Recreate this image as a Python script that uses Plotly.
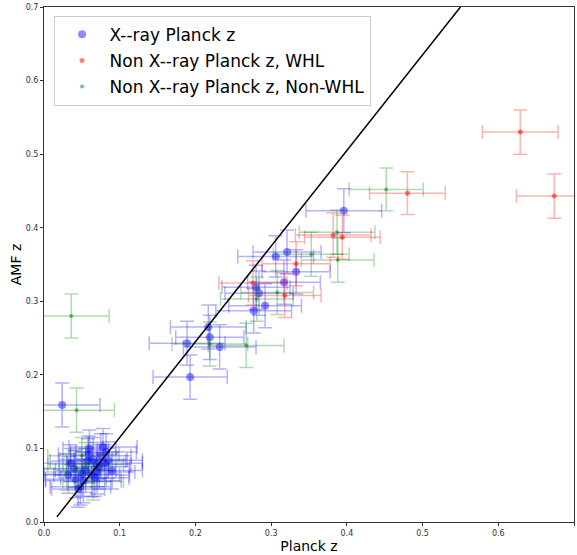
import plotly.graph_objects as go

# X-ray Planck z (blue)
xray_x = [0.396, 0.321, 0.306, 0.333, 0.317, 0.280, 0.284, 0.292, 0.277, 0.217, 0.219, 0.189, 0.232, 0.193, 0.024,
          0.059, 0.078, 0.058, 0.085, 0.073, 0.032, 0.063, 0.048, 0.045, 0.070, 0.080, 0.040, 0.055, 0.067, 0.090,
          0.052, 0.060, 0.075, 0.035, 0.050, 0.082, 0.065, 0.042, 0.070]
xray_y = [0.423, 0.367, 0.361, 0.340, 0.326, 0.319, 0.311, 0.294, 0.287, 0.265, 0.251, 0.243, 0.238, 0.197, 0.159,
          0.092, 0.102, 0.083, 0.084, 0.075, 0.064, 0.064, 0.048, 0.045, 0.078, 0.080, 0.072, 0.070, 0.060, 0.070,
          0.056, 0.100, 0.090, 0.080, 0.065, 0.095, 0.085, 0.058, 0.068]
xray_xerr = [0.050, 0.045, 0.050, 0.045, 0.048, 0.045, 0.045, 0.048, 0.050, 0.050, 0.045, 0.050, 0.048, 0.049, 0.050,
             0.040, 0.045, 0.050, 0.045, 0.040, 0.040, 0.050, 0.040, 0.035, 0.045, 0.050, 0.045, 0.040, 0.045, 0.040,
             0.050, 0.035, 0.040, 0.045, 0.050, 0.040, 0.045, 0.040, 0.050]
xray_yerr = [0.030, 0.030, 0.028, 0.030, 0.030, 0.030, 0.030, 0.030, 0.030, 0.030, 0.030, 0.030, 0.030, 0.030, 0.030,
             0.025, 0.025, 0.030, 0.025, 0.030, 0.025, 0.030, 0.025, 0.025, 0.030, 0.025, 0.025, 0.030, 0.025, 0.025,
             0.030, 0.025, 0.030, 0.025, 0.030, 0.025, 0.030, 0.025, 0.030]

# Non X-ray Planck z, WHL (red)
whl_x = [0.629, 0.674, 0.480, 0.382, 0.394, 0.333, 0.318, 0.276]
whl_y = [0.530, 0.443, 0.447, 0.390, 0.387, 0.351, 0.308, 0.325]
whl_xerr = [0.050, 0.050, 0.050, 0.050, 0.050, 0.045, 0.048, 0.045]
whl_yerr = [0.030, 0.030, 0.029, 0.030, 0.030, 0.030, 0.030, 0.030]

# Non X-ray Planck z, Non-WHL (green)
nonwhl_x = [0.452, 0.387, 0.388, 0.353, 0.308, 0.281, 0.219, 0.267, 0.036, 0.043, 0.042, 0.030, 0.055, 0.065, 0.050]
nonwhl_y = [0.452, 0.394, 0.356, 0.364, 0.312, 0.303, 0.242, 0.240, 0.280, 0.152, 0.073, 0.068, 0.078, 0.055, 0.090]
nonwhl_xerr = [0.049, 0.050, 0.048, 0.050, 0.048, 0.048, 0.050, 0.050, 0.050, 0.050, 0.045, 0.045, 0.050, 0.040, 0.045]
nonwhl_yerr = [0.029, 0.030, 0.030, 0.030, 0.030, 0.030, 0.030, 0.030, 0.030, 0.030, 0.025, 0.025, 0.030, 0.025, 0.025]

# Reference line
line_x = [0.017, 0.55]
line_y = [0.007, 0.70]

fig = go.Figure()

def add_group(x, y, xe, ye, name, rgb, msize, mop, grp):
    ecol = "rgba(%d,%d,%d,0.3)" % rgb
    fig.add_trace(go.Scatter(
        x=x, y=y, mode="markers", name=name, legendgroup=grp,
        marker=dict(color="rgba(%d,%d,%d,%s)" % (rgb + (mop,)), size=msize, line=dict(width=0)),
        error_x=dict(type="data", array=xe, color=ecol, thickness=1.5, width=7),
        error_y=dict(type="data", array=ye, color=ecol, thickness=1.5, width=7),
    ))

add_group(xray_x, xray_y, xray_xerr, xray_yerr, "X--ray Planck z", (0, 0, 255), 8, 0.45, "a")
add_group(whl_x, whl_y, whl_xerr, whl_yerr, "Non X--ray Planck z, WHL", (255, 0, 0), 5, 0.5, "b")
add_group(nonwhl_x, nonwhl_y, nonwhl_xerr, nonwhl_yerr, "Non X--ray Planck z, Non-WHL", (0, 128, 0), 4, 0.5, "c")

fig.add_trace(go.Scatter(x=line_x, y=line_y, mode="lines", showlegend=False,
                         line=dict(color="black", width=1.5)))

axis_common = dict(range=[0, 0.7], dtick=0.1, tickformat=".1f", showgrid=False, zeroline=False,
                   showline=True, linecolor="#333", linewidth=1, mirror=True, ticks="outside",
                   ticklen=3, tickcolor="#333", tickfont=dict(size=8, color="#333", family="DejaVu Sans"))

fig.update_layout(
    width=577, height=555,
    margin=dict(l=44, r=3, t=7, b=33),
    paper_bgcolor="white", plot_bgcolor="white",
    font=dict(family="DejaVu Sans", color="black"),
    xaxis=dict(axis_common, title=dict(text="Planck z", font=dict(size=14), standoff=4)),
    yaxis=dict(axis_common, title=dict(text="AMF z", font=dict(size=14), standoff=0)),
    legend=dict(x=0.018, y=0.983, xanchor="left", yanchor="top", font=dict(size=17),
                bgcolor="rgba(255,255,255,0.8)", bordercolor="#ccc", borderwidth=1,
                itemwidth=45, tracegroupgap=1),
    showlegend=True,
)

fig.write_html("out.html")
